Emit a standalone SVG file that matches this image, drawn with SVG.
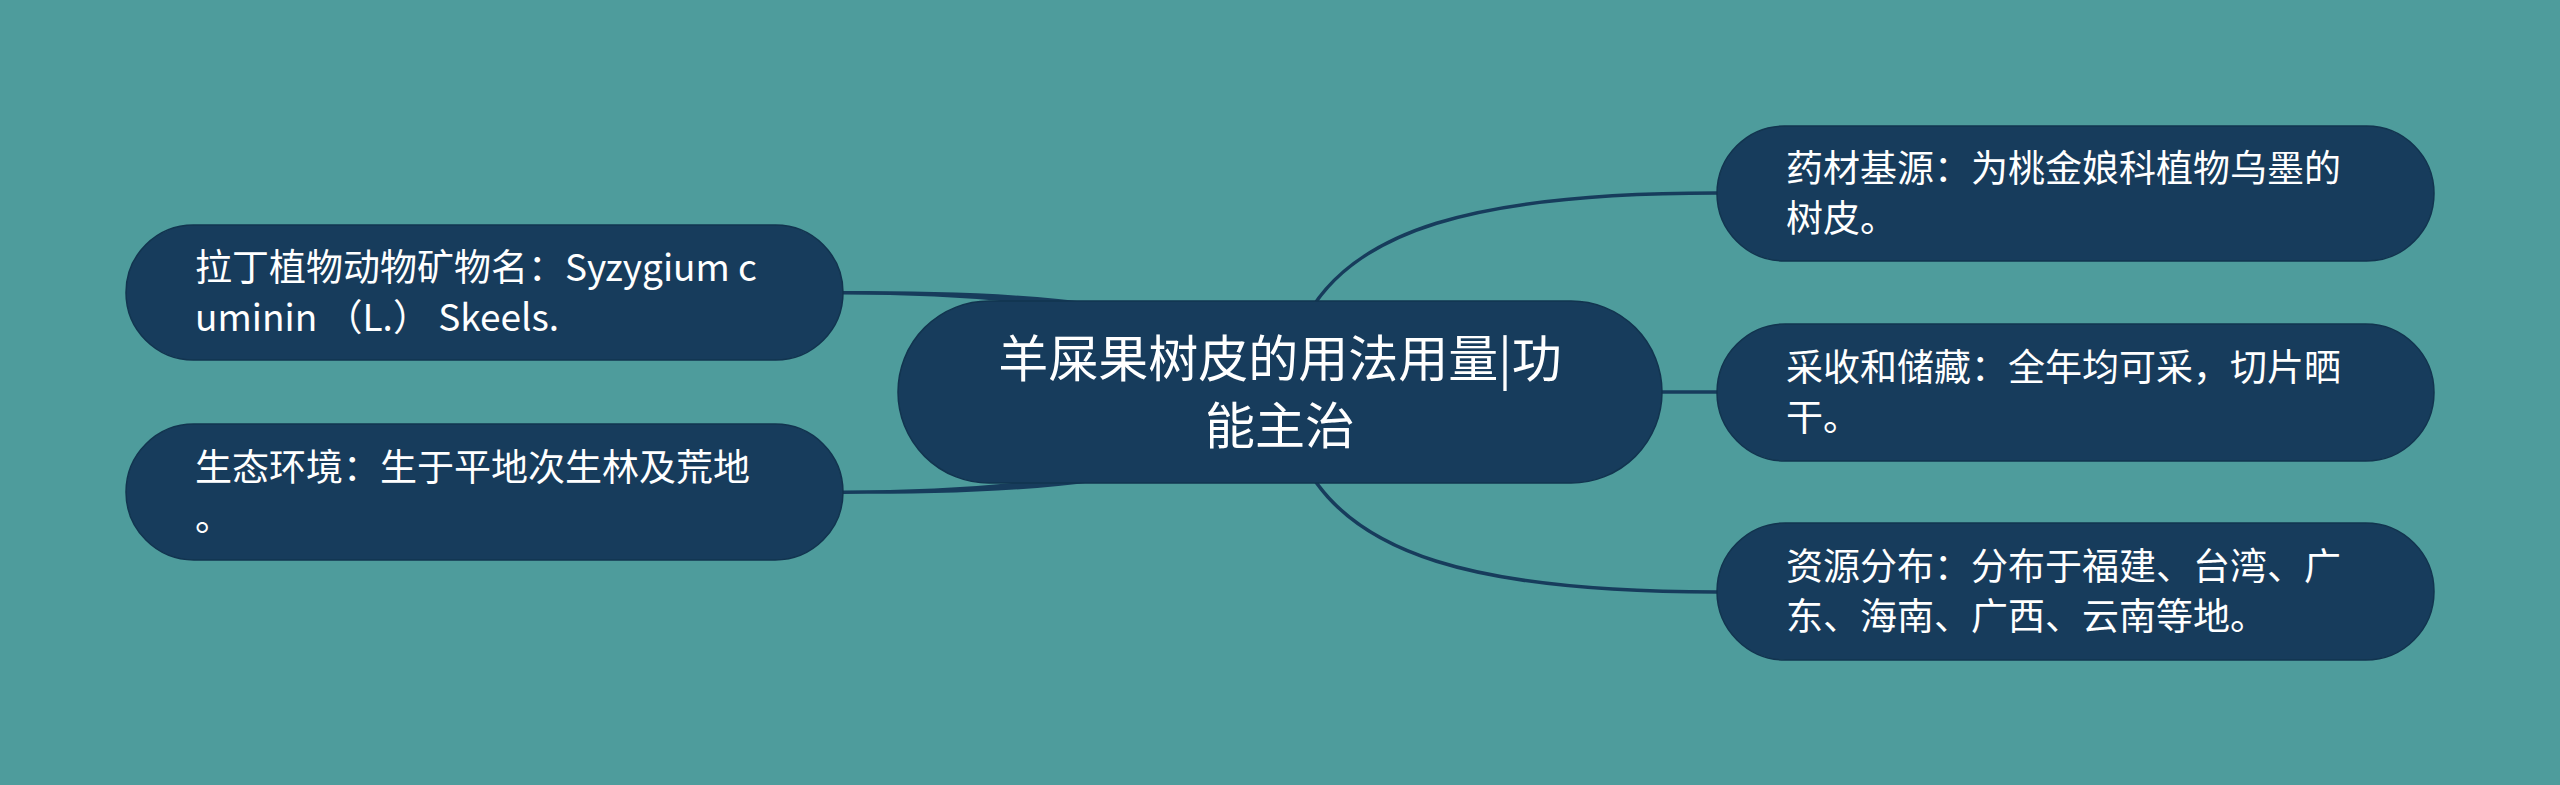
<svg xmlns="http://www.w3.org/2000/svg" width="2560" height="785" viewBox="0 0 2560 785">
<style>
.node{fill:#173c5c;stroke:#12344f;stroke-width:1.5}
.t{fill:#ffffff;font-family:"Noto Sans CJK SC","Noto Sans",sans-serif;font-size:37px}
.tc{fill:#ffffff;font-family:"Noto Sans CJK SC","Noto Sans",sans-serif;font-size:50px;text-anchor:middle}
.ln{fill:none;stroke:#173c5c;stroke-width:3.5}
.tp{fill:#173c5c}
</style>
<rect width="2560" height="785" fill="#4e9c9c"/>
<g id="connectors">
<path class="tp" d="M 843 291 C 940 291, 1020 293, 1100 304 L 1100 312 C 1020 301, 940 294.5, 843 294.5 Z"/>
<path class="tp" d="M 843 494 C 940 494, 1020 492, 1100 481 L 1100 473 C 1020 484, 940 490.5, 843 490.5 Z"/>
<path class="ln" d="M 1300 330 C 1345 228, 1480 193, 1717 193"/>
<path class="ln" d="M 1650 392 L 1717 392"/>
<path class="ln" d="M 1300 454 C 1345 556, 1480 592, 1717 592"/>
</g>
<g id="center">
<rect class="node" x="898" y="301" width="764" height="182" rx="91"/>
<text class="tc" x="1280" y="377">羊屎果树皮的用法用量|功</text>
<text class="tc" x="1280" y="444">能主治</text>
</g>
<g id="latin-name">
<rect class="node" x="126" y="225" width="717" height="135" rx="67.5"/>
<text class="t" x="195" y="281">拉丁植物动物矿物名：Syzygium c</text>
<text class="t" x="195" y="331">uminin （L.） Skeels.</text>
</g>
<g id="ecology">
<rect class="node" x="126" y="424" width="717" height="136" rx="68"/>
<text class="t" x="195" y="481">生态环境：生于平地次生林及荒地</text>
<text class="t" x="195" y="531">。</text>
</g>
<g id="source">
<rect class="node" x="1717" y="126" width="717" height="135" rx="67.5"/>
<text class="t" x="1786" y="182">药材基源：为桃金娘科植物乌墨的</text>
<text class="t" x="1786" y="232">树皮。</text>
</g>
<g id="harvest">
<rect class="node" x="1717" y="324" width="717" height="137" rx="68.5"/>
<text class="t" x="1786" y="381">采收和储藏：全年均可采，切片晒</text>
<text class="t" x="1786" y="431">干。</text>
</g>
<g id="distribution">
<rect class="node" x="1717" y="523" width="717" height="137" rx="68.5"/>
<text class="t" x="1786" y="580">资源分布：分布于福建、台湾、广</text>
<text class="t" x="1786" y="630">东、海南、广西、云南等地。</text>
</g>
</svg>
